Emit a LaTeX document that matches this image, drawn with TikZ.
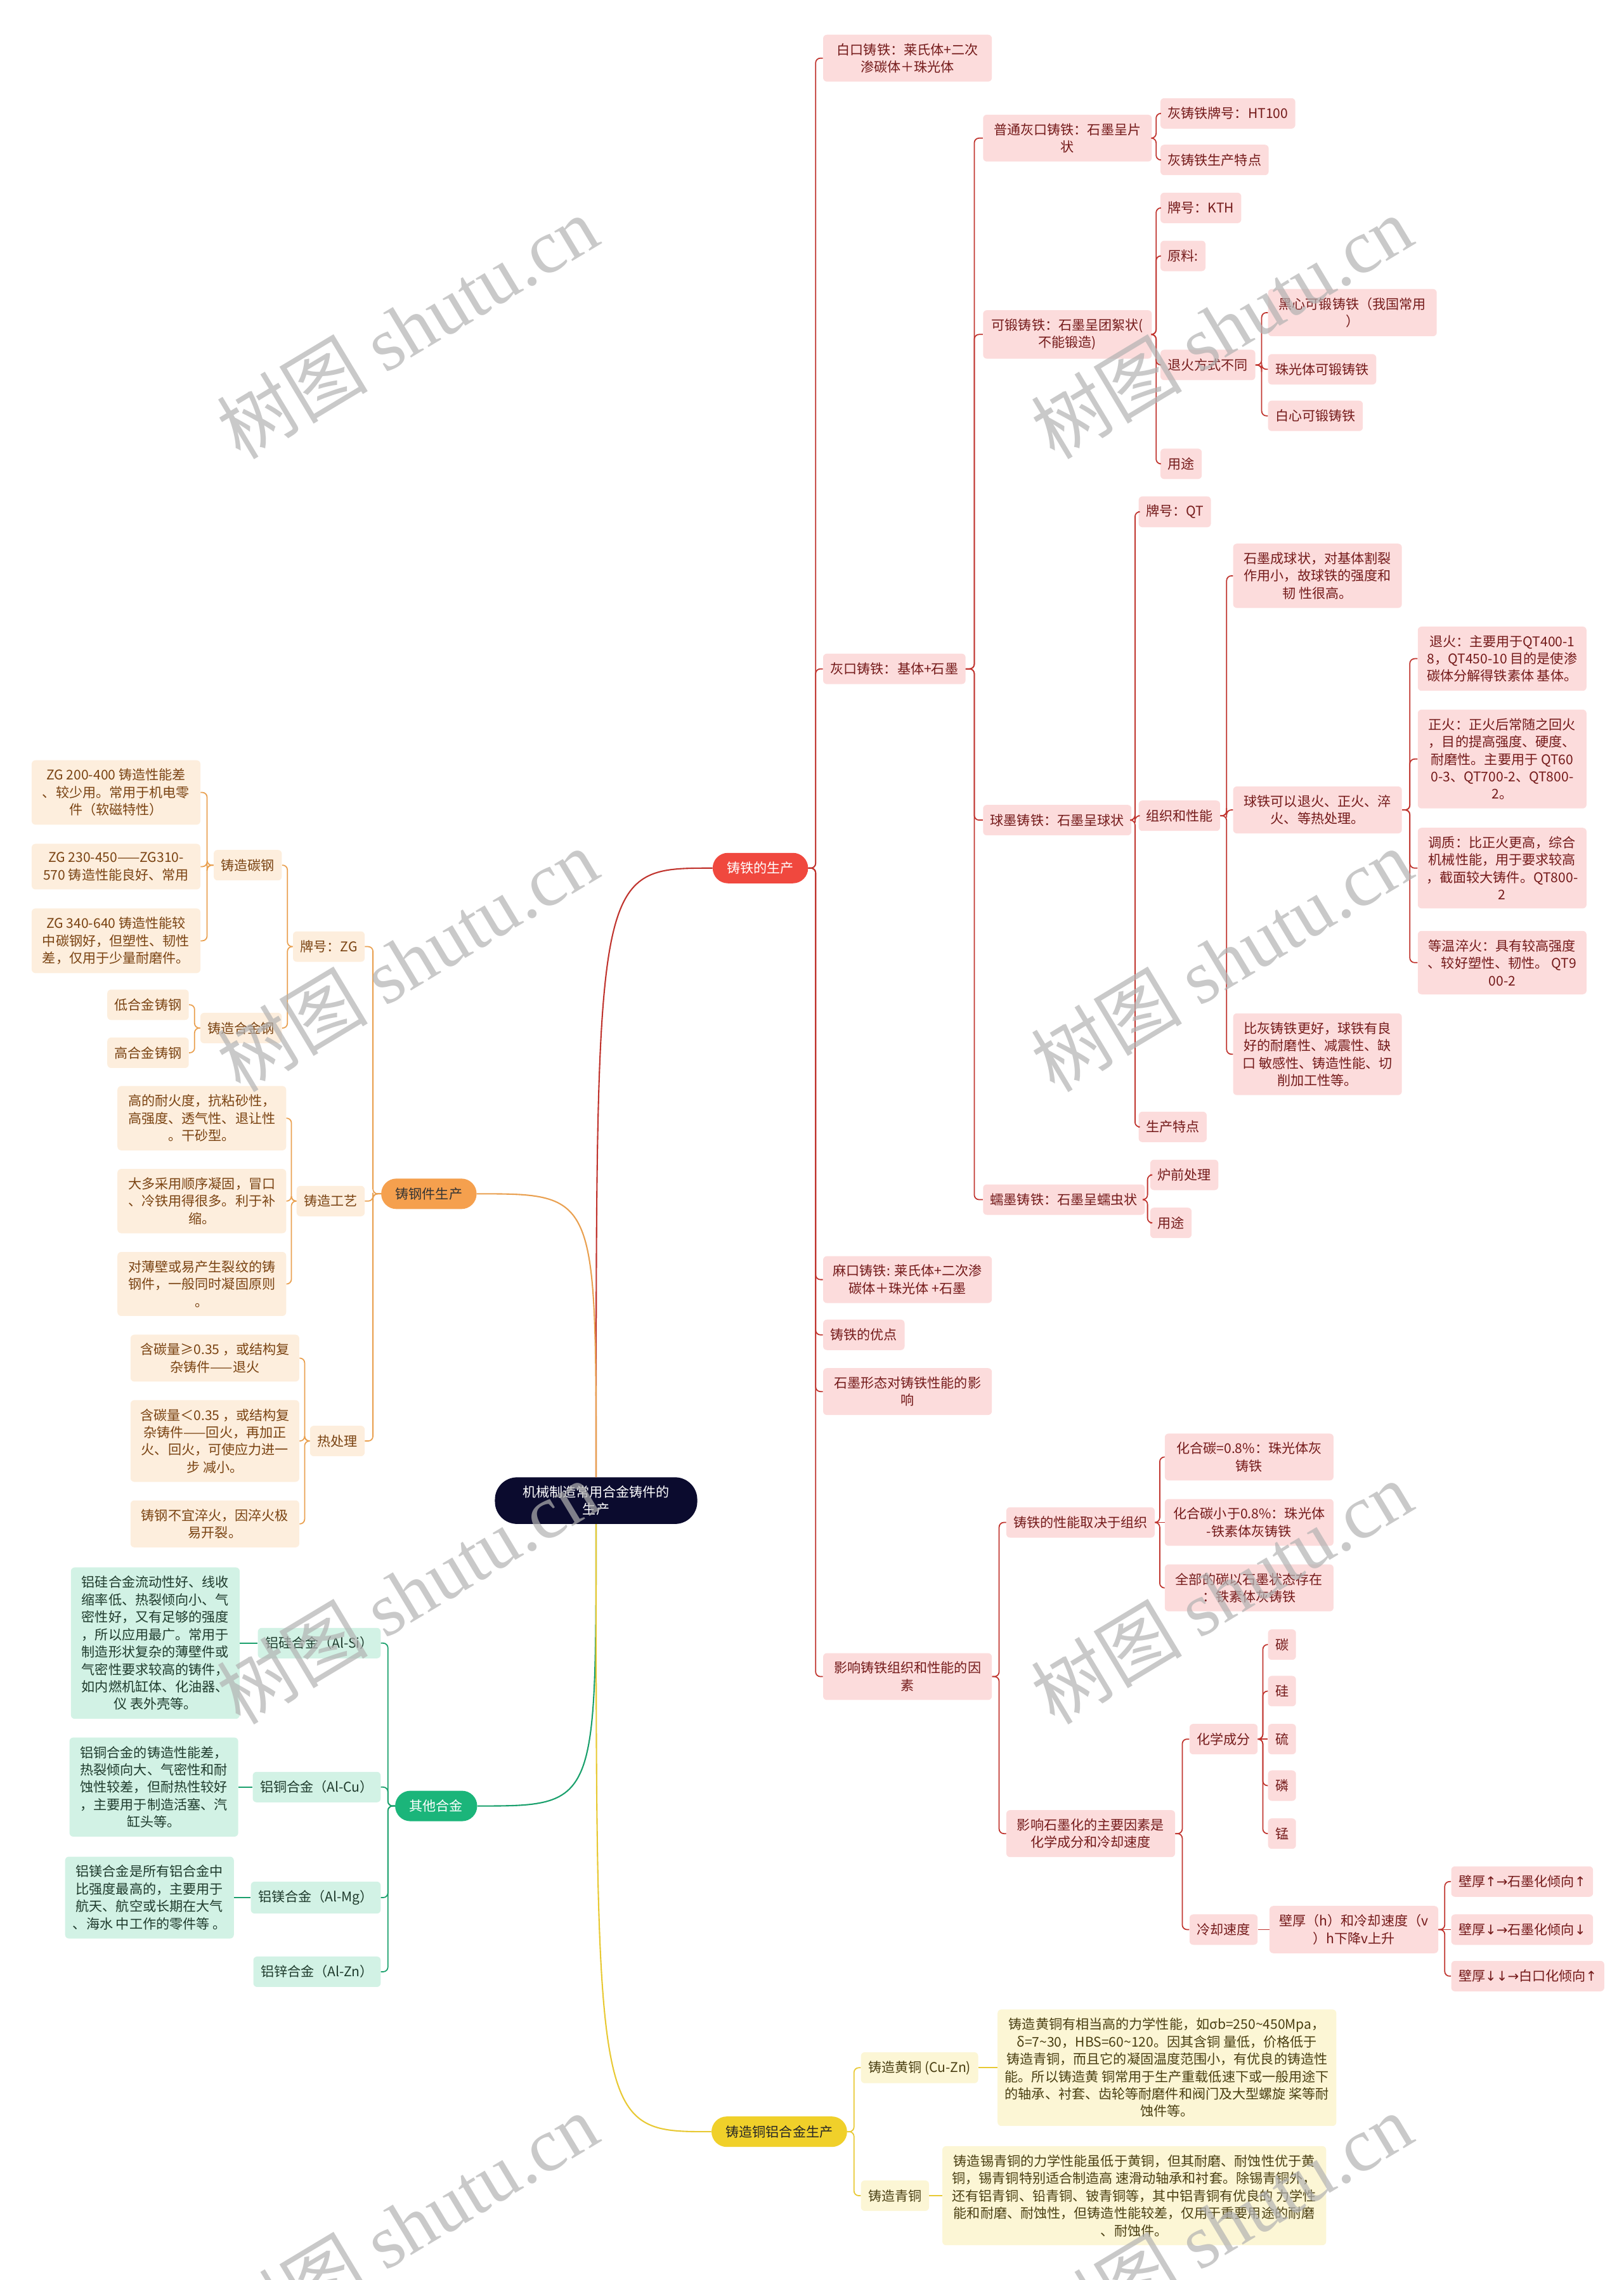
\documentclass[tikz,border=0pt]{standalone}
\usepackage{fontspec}
\setmainfont{Noto Sans CJK SC}
\newfontfamily\wmfont{Liberation Serif}
\newfontfamily\arrowfont{DejaVu Sans}
\newcommand{\arrup}{{\arrowfont ↑}}
\newcommand{\arrdown}{{\arrowfont ↓}}
\newcommand{\arrright}{{\arrowfont →}}
\usetikzlibrary{calc}
\definecolor{rootbg}{HTML}{0B0B2E}
\definecolor{castbg}{HTML}{F0483E}
\definecolor{steelbg}{HTML}{F5A04E}
\definecolor{otherbg}{HTML}{1BB57A}
\definecolor{cualbg}{HTML}{F0D02A}
\definecolor{castfill}{HTML}{FCDCDC}
\definecolor{casttext}{HTML}{741A1A}
\definecolor{castline}{HTML}{C0342E}
\definecolor{steelfill}{HTML}{FDEEDD}
\definecolor{steeltext}{HTML}{7A4312}
\definecolor{steelline}{HTML}{E9A050}
\definecolor{otherfill}{HTML}{D2F2E5}
\definecolor{othertext}{HTML}{1F3B2D}
\definecolor{otherline}{HTML}{1AA06C}
\definecolor{cualfill}{HTML}{FCF6D5}
\definecolor{cualtext}{HTML}{4A3F12}
\definecolor{cualline}{HTML}{E8C934}

\begin{document}
\begin{tikzpicture}[x=0.04584cm, y=-0.04584cm,
    every node/.style={font=\fontsize{12}{15.6}\selectfont, align=center},
    topic/.style={rectangle, rounded corners=0.48cm, minimum height=0.96cm, inner xsep=0.45cm, inner ysep=0.2cm},
    box/.style={rectangle, rounded corners=0.12cm, minimum height=0.96cm, inner xsep=0.23cm, inner ysep=0.27cm},
    wrap/.style={minimum width=5.32cm},
    castbox/.style={box, fill=castfill, text=casttext},
    steelbox/.style={box, fill=steelfill, text=steeltext},
    otherbox/.style={box, fill=otherfill, text=othertext},
    cualbox/.style={box, fill=cualfill, text=cualtext},
    elbow/.style={rounded corners=0.15cm, line width=1pt, to path={-| ($(\tikztostart)!.5!(\tikztotarget)$) |- (\tikztotarget)}},
    castedge/.style={elbow, draw=castline},
    steeledge/.style={elbow, draw=steelline},
    otheredge/.style={elbow, draw=otherline},
    cualedge/.style={elbow, draw=cualline},
    wmark/.style={rotate=31, text=gray!60, opacity=0.7, font=\fontsize{68}{68}\selectfont}
]
\useasboundingbox (0,0) rectangle (1117,1568);

\node[rectangle, rounded corners=0.7cm, minimum height=1.47cm, inner xsep=0.87cm, fill=rootbg, text=white] (root) at (410,1032) {机械制造常用合金铸件的\\生产};

\node[topic, fill=castbg, text=white] (cast) at (523,597) {铸铁的生产};
\node[topic, fill=steelbg, text=black!80] (steel) at (295,821) {铸钢件生产};
\node[topic, fill=otherbg, text=white] (other) at (300,1242) {其他合金};
\node[topic, fill=cualbg, text=black!85] (cual) at (536,1466) {铸造铜铝合金生产};

\node[castbox, wrap, anchor=west] (white) at (566,40) {白口铸铁：莱氏体+二次\\渗碳体＋珠光体};
\node[castbox, anchor=west] (grey) at (566,460) {灰口铸铁：基体+石墨};
\node[castbox, wrap, anchor=west] (mottled) at (566,880) {麻口铸铁: 莱氏体+二次渗\\碳体＋珠光体 +石墨};
\node[castbox, anchor=west] (merit) at (566,918) {铸铁的优点};
\node[castbox, wrap, anchor=west] (graph) at (566,957) {石墨形态对铸铁性能的影\\响};
\node[castbox, wrap, anchor=west] (factor) at (566,1153) {影响铸铁组织和性能的因\\素};

\node[castbox, wrap, anchor=west] (plain) at (676,95) {普通灰口铸铁：石墨呈片\\状};
\node[castbox, wrap, anchor=west] (malle) at (676,230) {可锻铸铁：石墨呈团絮状(\\不能锻造)};
\node[castbox, anchor=west] (nodu) at (676,564) {球墨铸铁：石墨呈球状};
\node[castbox, anchor=west] (verm) at (676,825) {蠕墨铸铁：石墨呈蠕虫状};

\node[castbox, anchor=west] (htno) at (798,78) {灰铸铁牌号：HT100};
\node[castbox, anchor=west] (htfeat) at (798,110) {灰铸铁生产特点};
\node[castbox, anchor=west] (kth) at (798,143) {牌号：KTH};
\node[castbox, anchor=west] (raw) at (798,176) {原料:};
\node[castbox, anchor=west] (anneal) at (798,251) {退火方式不同};
\node[castbox, anchor=west] (kuse) at (798,319) {用途};

\node[castbox, wrap, anchor=west] (blackheart) at (872,215) {黑心可锻铸铁（我国常用\\）};
\node[castbox, anchor=west] (pearl) at (872,254) {珠光体可锻铸铁};
\node[castbox, anchor=west] (whiteheart) at (872,286) {白心可锻铸铁};

\node[castbox, anchor=west] (qtno) at (783,352) {牌号：QT};
\node[castbox, anchor=west] (struct) at (783,561) {组织和性能};
\node[castbox, anchor=west] (qtfeat) at (783,775) {生产特点};

\node[castbox, wrap, anchor=west] (sphere) at (848,396) {石墨成球状，对基体割裂\\作用小，故球铁的强度和\\韧 性很高。};
\node[castbox, wrap, anchor=west] (heat) at (848,557) {球铁可以退火、正火、淬\\火、等热处理。};
\node[castbox, wrap, anchor=west] (better) at (848,725) {比灰铸铁更好，球铁有良\\好的耐磨性、减震性、缺\\口 敏感性、铸造性能、切\\削加工性等。};

\node[castbox, wrap, anchor=west] (ann) at (975,453) {退火：主要用于QT400-1\\8，QT450-10 目的是使渗\\碳体分解得铁素体 基体。};
\node[castbox, wrap, anchor=west] (norm) at (975,522) {正火：正火后常随之回火\\，目的提高强度、硬度、\\耐磨性。主要用于 QT60\\0-3、QT700-2、QT800-\\2。};
\node[castbox, wrap, anchor=west] (qtemp) at (975,597) {调质：比正火更高，综合\\机械性能，用于要求较高\\，截面较大铸件。QT800-\\2};
\node[castbox, wrap, anchor=west] (auste) at (975,662) {等温淬火：具有较高强度\\、较好塑性、韧性。 QT9\\00-2};

\node[castbox, anchor=west] (furnace) at (791,808) {炉前处理};
\node[castbox, anchor=west] (vuse) at (791,841) {用途};

\node[castbox, anchor=west] (dep) at (692,1047) {铸铁的性能取决于组织};
\node[castbox, wrap, anchor=west] (graphz) at (692,1261) {影响石墨化的主要因素是\\化学成分和冷却速度};

\node[castbox, wrap, anchor=west] (cpear) at (801,1002) {化合碳=0.8\%：珠光体灰\\铸铁};
\node[castbox, wrap, anchor=west] (cmix) at (801,1047) {化合碳小于0.8\%：珠光体\\-铁素体灰铸铁};
\node[castbox, wrap, anchor=west] (cferr) at (801,1092) {全部的碳以石墨状态存在\\：铁素体灰铸铁};

\node[castbox, anchor=west] (chem) at (818,1196) {化学成分};
\node[castbox, anchor=west] (cool) at (818,1327) {冷却速度};

\node[castbox, anchor=west] (eC) at (872,1131) {碳};
\node[castbox, anchor=west] (eSi) at (872,1163) {硅};
\node[castbox, anchor=west] (eS) at (872,1196) {硫};
\node[castbox, anchor=west] (eP) at (872,1228) {磷};
\node[castbox, anchor=west] (eMn) at (872,1261) {锰};

\node[castbox, wrap, anchor=west] (wall) at (873,1327) {壁厚（h）和冷却速度（v\\）h下降v上升};
\node[castbox, anchor=west] (wallA) at (998,1294) {壁厚\arrup\arrright 石墨化倾向\arrup};
\node[castbox, anchor=west] (wallB) at (998,1327) {壁厚\arrdown\arrright 石墨化倾向\arrdown};
\node[castbox, anchor=west] (wallC) at (998,1359) {壁厚\arrdown\arrdown\arrright 白口化倾向\arrup};

\node[steelbox, anchor=east] (zg) at (251,651) {牌号：ZG};
\node[steelbox, anchor=east] (craft) at (251,826) {铸造工艺};
\node[steelbox, anchor=east] (htreat) at (251,991) {热处理};

\node[steelbox, anchor=east] (carbon) at (194,595) {铸造碳钢};
\node[steelbox, anchor=east] (alloy) at (194,707) {铸造合金钢};
\node[steelbox, wrap, anchor=east] (zgA) at (138,545) {ZG 200-400 铸造性能差\\、较少用。常用于机电零\\件（软磁特性）};
\node[steelbox, wrap, anchor=east] (zgB) at (138,596) {ZG 230-450——ZG310-\\570 铸造性能良好、常用};
\node[steelbox, wrap, anchor=east] (zgC) at (138,647) {ZG 340-640 铸造性能较\\中碳钢好，但塑性、韧性\\差，仅用于少量耐磨件。};
\node[steelbox, anchor=east] (lowal) at (130,691) {低合金铸钢};
\node[steelbox, anchor=east] (highal) at (130,724) {高合金铸钢};

\node[steelbox, wrap, anchor=east] (crA) at (197,769) {高的耐火度，抗粘砂性，\\高强度、透气性、退让性\\。干砂型。};
\node[steelbox, wrap, anchor=east] (crB) at (197,826) {大多采用顺序凝固，冒口\\、冷铁用得很多。利于补\\缩。};
\node[steelbox, wrap, anchor=east] (crC) at (197,883) {对薄壁或易产生裂纹的铸\\钢件，一般同时凝固原则\\。};

\node[steelbox, wrap, anchor=east] (htA) at (206,934) {含碳量≥0.35 ，或结构复\\杂铸件——退火};
\node[steelbox, wrap, anchor=east] (htB) at (206,991) {含碳量＜0.35 ，或结构复\\杂铸件——回火，再加正\\火、回火，可使应力进一\\步 减小。};
\node[steelbox, wrap, anchor=east] (htC) at (206,1048) {铸钢不宜淬火，因淬火极\\易开裂。};

\node[otherbox, anchor=east] (alsi) at (262,1130) {铝硅合金（Al-Si）};
\node[otherbox, anchor=east] (alcu) at (262,1229) {铝铜合金（Al-Cu）};
\node[otherbox, anchor=east] (almg) at (262,1305) {铝镁合金（Al-Mg）};
\node[otherbox, anchor=east] (alzn) at (262,1356) {铝锌合金（Al-Zn）};
\node[otherbox, wrap, anchor=east] (alsitxt) at (165,1130) {铝硅合金流动性好、线收\\缩率低、热裂倾向小、气\\密性好，又有足够的强度\\，所以应用最广。常用于\\制造形状复杂的薄壁件或\\气密性要求较高的铸件，\\如内燃机缸体、化油器、\\仪 表外壳等。};
\node[otherbox, wrap, anchor=east] (alcutxt) at (164,1229) {铝铜合金的铸造性能差，\\热裂倾向大、气密性和耐\\蚀性较差，但耐热性较好\\，主要用于制造活塞、汽\\缸头等。};
\node[otherbox, wrap, anchor=east] (almgtxt) at (161,1305) {铝镁合金是所有铝合金中\\比强度最高的，主要用于\\航天、航空或长期在大气\\、海水 中工作的零件等 。};

\node[cualbox, anchor=west] (brass) at (592,1422) {铸造黄铜 (Cu-Zn)};
\node[cualbox, anchor=west] (bronze) at (592,1510) {铸造青铜};
\node[cualbox, minimum width=10.68cm, anchor=west] (brasstxt) at (686,1422) {铸造黄铜有相当高的力学性能，如σb=250\textasciitilde450Mpa，\\δ=7\textasciitilde30，HBS=60\textasciitilde120。因其含铜 量低，价格低于\\铸造青铜，而且它的凝固温度范围小，有优良的铸造性\\能。所以铸造黄 铜常用于生产重载低速下或一般用途下\\的轴承、衬套、齿轮等耐磨件和阀门及大型螺旋 桨等耐\\蚀件等。};
\node[cualbox, minimum width=12.1cm, anchor=west] (bronzetxt) at (648,1510) {铸造锡青铜的力学性能虽低于黄铜，但其耐磨、耐蚀性优于黄\\铜，锡青铜特别适合制造高 速滑动轴承和衬套。除锡青铜外，\\还有铝青铜、铅青铜、铍青铜等，其中铝青铜有优良的 力学性\\能和耐磨、耐蚀性，但铸造性能较差，仅用于重要用途的耐磨\\、耐蚀件。};

\draw[castline, line width=1.2pt] (root.north) .. controls (root.north |- cast.west) .. (cast.west);
\draw[steelline, line width=1.2pt] (root.north) .. controls (root.north |- steel.east) .. (steel.east);
\draw[otherline, line width=1.2pt] (root.south) .. controls (root.south |- other.east) .. (other.east);
\draw[cualline, line width=1.2pt] (root.south) .. controls (root.south |- cual.west) .. (cual.west);

\foreach \c in {white,grey,mottled,merit,graph,factor} \draw[castedge] (cast.east) to (\c.west);
\foreach \c in {plain,malle,nodu,verm} \draw[castedge] (grey.east) to (\c.west);
\foreach \c in {htno,htfeat} \draw[castedge] (plain.east) to (\c.west);
\foreach \c in {kth,raw,anneal,kuse} \draw[castedge] (malle.east) to (\c.west);
\foreach \c in {blackheart,pearl,whiteheart} \draw[castedge] (anneal.east) to (\c.west);
\foreach \c in {qtno,struct,qtfeat} \draw[castedge] (nodu.east) to (\c.west);
\foreach \c in {sphere,heat,better} \draw[castedge] (struct.east) to (\c.west);
\foreach \c in {ann,norm,qtemp,auste} \draw[castedge] (heat.east) to (\c.west);
\foreach \c in {furnace,vuse} \draw[castedge] (verm.east) to (\c.west);
\foreach \c in {dep,graphz} \draw[castedge] (factor.east) to (\c.west);
\foreach \c in {cpear,cferr} \draw[castedge] (dep.east) to (\c.west);
\draw[castline, line width=1pt] (dep.east) -- (cmix.west);
\foreach \c in {chem,cool} \draw[castedge] (graphz.east) to (\c.west);
\foreach \c in {eC,eSi,eP,eMn} \draw[castedge] (chem.east) to (\c.west);
\draw[castline, line width=1pt] (chem.east) -- (eS.west);
\draw[castline, line width=1pt] (cool.east) -- (wall.west);
\foreach \c in {wallA,wallC} \draw[castedge] (wall.east) to (\c.west);
\draw[castline, line width=1pt] (wall.east) -- (wallB.west);

\foreach \c in {zg,craft,htreat} \draw[steeledge] (steel.west) to (\c.east);
\foreach \c in {carbon,alloy} \draw[steeledge] (zg.west) to (\c.east);
\foreach \c in {zgA,zgB,zgC} \draw[steeledge] (carbon.west) to (\c.east);
\foreach \c in {lowal,highal} \draw[steeledge] (alloy.west) to (\c.east);
\foreach \c in {crA,crB,crC} \draw[steeledge] (craft.west) to (\c.east);
\foreach \c in {htA,htB,htC} \draw[steeledge] (htreat.west) to (\c.east);

\foreach \c in {alsi,alcu,almg,alzn} \draw[otheredge] (other.west) to (\c.east);
\draw[otherline, line width=1pt] (alsi.west) -- (alsitxt.east);
\draw[otherline, line width=1pt] (alcu.west) -- (alcutxt.east);
\draw[otherline, line width=1pt] (almg.west) -- (almgtxt.east);

\foreach \c in {brass,bronze} \draw[cualedge] (cual.east) to (\c.west);
\draw[cualline, line width=1pt] (brass.east) -- (brasstxt.west);
\draw[cualline, line width=1pt] (bronze.east) -- (bronzetxt.west);

\foreach \wx in {280,840} \foreach \wy in {225,660,1095,1530}
  \node[wmark] at (\wx,\wy) {树图 {\wmfont shutu.cn}};
\end{tikzpicture}
\end{document}
